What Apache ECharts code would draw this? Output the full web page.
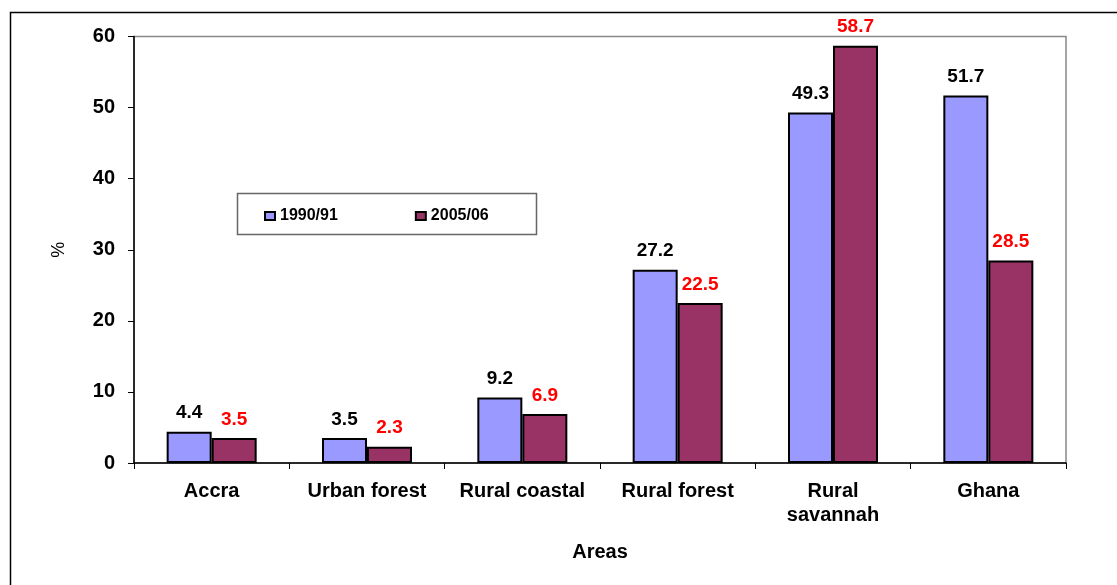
<!DOCTYPE html>
<html>
<head>
<meta charset="utf-8">
<script src="https://cdn.jsdelivr.net/npm/echarts@6/dist/echarts.min.js"></script>
<style>
  html, body { margin: 0; padding: 0; background: #fff; }
  #chart { width: 1117px; height: 585px; }
</style>
</head>
<body>
<div id="chart"></div>
<script>
// data
var areas = ['Accra', 'Urban forest', 'Rural coastal', 'Rural forest', 'Rural\nsavannah', 'Ghana'];
var seriesNames = ['1990/91', '2005/06'];
var values1990 = [4.4, 3.5, 9.2, 27.2, 49.3, 51.7];
var values2005 = [3.5, 2.3, 6.9, 22.5, 58.7, 28.5];
var yTicks = { min: 0, max: 60, step: 10 };

var font = 'Liberation Sans, Arial, sans-serif';
var chart = echarts.init(document.getElementById('chart'));

function barLabel(color) {
  return {
    show: true,
    position: 'top',
    distance: 9,
    color: color,
    fontFamily: font,
    fontWeight: 'bold',
    fontSize: 19
  };
}

var option = {
  animation: false,
  backgroundColor: '#fff',
  graphic: [
    {
      // outer frame
      type: 'rect',
      shape: { x: 10.5, y: 12.5, width: 1200, height: 700 },
      style: { fill: 'none', stroke: '#000', lineWidth: 1.5 },
      silent: true
    },
    {
      // legend box
      type: 'rect',
      shape: { x: 237.5, y: 193.5, width: 299, height: 41 },
      style: { fill: '#fff', stroke: '#666', lineWidth: 1.5 },
      z: 1,
      silent: true
    }
  ],
  grid: {
    left: 134,
    right: 51,
    top: 36.5,
    bottom: 122,
    show: true,
    borderColor: '#888',
    borderWidth: 1.5
  },
  legend: {
    data: seriesNames,
    left: 259,
    top: 203,
    itemWidth: 10,
    itemHeight: 8,
    itemGap: 77,
    icon: 'rect',
    z: 5,
    textStyle: {
      fontFamily: font,
      fontWeight: 'bold',
      fontSize: 16,
      color: '#000'
    }
  },
  xAxis: {
    type: 'category',
    data: areas,
    name: 'Areas',
    nameLocation: 'middle',
    nameGap: 79,
    nameTextStyle: { fontFamily: font, fontWeight: 'bold', fontSize: 20, color: '#000' },
    axisLine: { lineStyle: { color: '#000', width: 1.5 } },
    axisTick: { show: true, interval: 0, length: 6, lineStyle: { color: '#000' } },
    axisLabel: {
      interval: 0,
      hideOverlap: false,
      margin: 16,
      fontFamily: font,
      fontWeight: 'bold',
      fontSize: 20,
      color: '#000',
      lineHeight: 24
    }
  },
  yAxis: {
    type: 'value',
    min: yTicks.min,
    max: yTicks.max,
    interval: yTicks.step,
    name: '%',
    nameLocation: 'middle',
    nameGap: 66,
    nameRotate: 90,
    nameTextStyle: { fontFamily: font, fontSize: 18, color: '#000' },
    axisLine: { show: true, lineStyle: { color: '#000', width: 1.5 } },
    axisTick: { show: true, length: 6, lineStyle: { color: '#000' } },
    splitLine: { show: false },
    axisLabel: {
      margin: 19,
      fontFamily: font,
      fontWeight: 'bold',
      fontSize: 20,
      color: '#000'
    }
  },
  series: [
    {
      name: seriesNames[0],
      type: 'bar',
      data: values1990,
      barWidth: 45,
      barGap: '0%',
      itemStyle: { color: '#9999FF', borderColor: '#000', borderWidth: 2 },
      label: barLabel('#000')
    },
    {
      name: seriesNames[1],
      type: 'bar',
      data: values2005,
      barWidth: 45,
      itemStyle: { color: '#993366', borderColor: '#000', borderWidth: 2 },
      label: barLabel('#FF0000')
    }
  ]
};

chart.setOption(option);
</script>
</body>
</html>
